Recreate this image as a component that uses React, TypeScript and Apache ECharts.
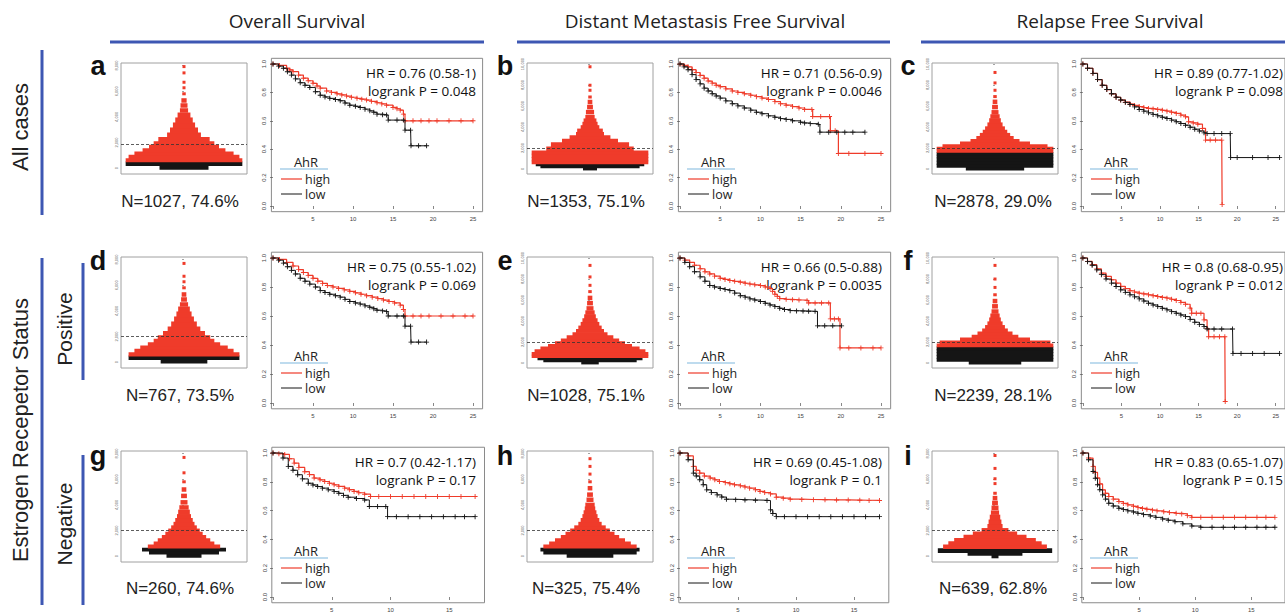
import React, { useEffect, useRef } from "react";
import * as echarts from "echarts";

// ---------- DATA ----------
const headers = ["Overall Survival", "Distant Metastasis Free Survival", "Relapse Free Survival"];
const rowLabels = ["All cases", "Estrogen Recepetor Status"];
const subLabels = ["Positive", "Negative"];
const letters = ["a", "b", "c", "d", "e", "f", "g", "h", "i"];
const nTexts = ["N=1027, 74.6%", "N=1353, 75.1%", "N=2878, 29.0%", "N=767, 73.5%", "N=1028, 75.1%", "N=2239, 28.1%", "N=260, 74.6%", "N=325, 75.4%", "N=639, 62.8%"];
const hrTexts = ["HR = 0.76 (0.58-1)", "HR = 0.71 (0.56-0.9)", "HR = 0.89 (0.77-1.02)", "HR = 0.75 (0.55-1.02)", "HR = 0.66 (0.5-0.88)", "HR = 0.8 (0.68-0.95)", "HR = 0.7 (0.42-1.17)", "HR = 0.69 (0.45-1.08)", "HR = 0.83 (0.65-1.07)"];
const pTexts = ["logrank P = 0.048", "logrank P = 0.0046", "logrank P = 0.098", "logrank P = 0.069", "logrank P = 0.0035", "logrank P = 0.012", "logrank P = 0.17", "logrank P = 0.1", "logrank P = 0.15"];
const legendTitle = "AhR";
const legendNames = ["high", "low"];

// beeswarm rows: [expression value, half width (fraction of box), isLowGroup]
const beeA = [[50,0.42,1],[360,1.0,1],[620,1.0,0],[880,0.95,0],[1140,0.85,0],[1400,0.71,0],[1660,0.6,0],[1920,0.52,0],[2230,0.44,0],[2560,0.29,0],[2950,0.24,0],[3340,0.19,0],[3730,0.15,0],[4120,0.11,0],[4500,0.07,0],[4890,0.06,0],[5280,0.045,0],[5800,0.03,0],[6270,0.02,0],[6700,0.015,0],[7430,0.012,0],[7920,0.012,0]];
const beeB = [[30,0.12,1],[200,0.85,1],[385,0.93,1],[610,1.0,0],[930,1.0,0],[1250,1.0,0],[1570,1.0,0],[1890,0.75,0],[2310,0.67,0],[2690,0.48,0],[3010,0.35,0],[3330,0.24,0],[3650,0.22,0],[3970,0.16,0],[4300,0.13,0],[4620,0.11,0],[4940,0.08,0],[5420,0.07,0],[5900,0.05,0],[6380,0.04,0],[6860,0.03,0],[7500,0.02,0],[7980,0.02,0],[9740,0.015,0]];
const beeC = [[20,0.5,1],[300,1.0,1],[600,1.0,1],[900,1.0,1],[1200,1.0,1],[1450,1.0,1],[1700,1.0,0],[1950,1.0,0],[2200,0.9,0],[2450,0.6,0],[2700,0.42,0],[2950,0.32,0],[3250,0.26,0],[3550,0.21,0],[3850,0.17,0],[4200,0.13,0],[4600,0.1,0],[5000,0.08,0],[5400,0.06,0],[5900,0.05,0],[6400,0.04,0],[6900,0.03,0],[7500,0.02,0],[8200,0.015,0],[9200,0.015,0]];
const beeD = [[60,0.4,1],[350,0.95,1],[620,0.95,0],[880,0.85,0],[1140,0.75,0],[1400,0.62,0],[1660,0.52,0],[1920,0.45,0],[2230,0.36,0],[2560,0.28,0],[2950,0.22,0],[3340,0.17,0],[3730,0.13,0],[4120,0.1,0],[4500,0.07,0],[4890,0.05,0],[5280,0.04,0],[5800,0.03,0],[6270,0.02,0],[6700,0.015,0],[7700,0.012,0]];
const beeE = [[30,0.15,1],[200,0.8,1],[400,0.9,1],[620,1.0,0],[880,1.0,0],[1140,0.95,0],[1400,0.85,0],[1650,0.72,0],[1900,0.6,0],[2150,0.5,0],[2450,0.4,0],[2750,0.3,0],[3050,0.24,0],[3350,0.2,0],[3700,0.16,0],[4050,0.13,0],[4400,0.1,0],[4800,0.08,0],[5200,0.06,0],[5700,0.05,0],[6200,0.04,0],[6800,0.03,0],[7400,0.02,0],[8200,0.02,0],[9300,0.015,0]];
const beeF = [[30,0.45,1],[280,1.0,1],[560,1.0,1],[840,1.0,1],[1120,1.0,1],[1400,1.0,1],[1680,1.0,0],[1960,0.95,0],[2240,0.6,0],[2520,0.4,0],[2800,0.3,0],[3100,0.22,0],[3400,0.17,0],[3750,0.13,0],[4100,0.1,0],[4500,0.08,0],[4900,0.06,0],[5400,0.05,0],[5900,0.04,0],[6500,0.03,0],[7200,0.02,0],[8000,0.02,0],[9300,0.015,0]];
const beeG = [[50,0.3,1],[280,0.6,1],[500,0.72,1],[750,0.62,0],[1000,0.52,0],[1250,0.45,0],[1500,0.38,0],[1750,0.32,0],[2000,0.27,0],[2250,0.22,0],[2500,0.18,0],[2800,0.15,0],[3100,0.12,0],[3400,0.1,0],[3800,0.08,0],[4200,0.06,0],[4700,0.05,0],[5200,0.04,0],[5800,0.03,0],[6500,0.02,0],[7700,0.015,0]];
const beeH = [[50,0.4,1],[280,0.8,1],[500,0.85,1],[750,0.8,0],[1000,0.7,0],[1250,0.6,0],[1500,0.5,0],[1750,0.42,0],[2000,0.34,0],[2250,0.27,0],[2500,0.2,0],[2800,0.16,0],[3100,0.13,0],[3400,0.11,0],[3700,0.09,0],[4000,0.08,0],[4400,0.06,0],[4800,0.05,0],[5300,0.04,0],[5800,0.03,0],[6400,0.02,0],[7000,0.015,0],[7600,0.015,0]];
const beeI = [[0,0.06,1],[150,0.47,1],[430,0.98,1],[755,0.89,0],[1006,0.8,0],[1258,0.7,0],[1509,0.54,0],[1761,0.38,0],[2013,0.23,0],[2314,0.13,0],[2642,0.11,0],[3019,0.09,0],[3396,0.07,0],[3774,0.06,0],[4150,0.05,0],[4528,0.04,0],[4906,0.03,0],[5660,0.015,0],[6038,0.015,0],[6843,0.015,0],[7849,0.015,0]];
const beeTickMax = [8000, 10000, 10000, 8000, 10000, 10000, 8000, 8000, 8000];
const beeCutoff = [1900, 1950, 1950, 2000, 2000, 1950, 2000, 2000, 2000];

// Kaplan-Meier curves: [years, survival]
const kmAHigh = [[0,1],[0.8,0.99],[1.7,0.97],[2.1,0.958],[2.5,0.946],[3.2,0.922],[3.8,0.9],[4.4,0.882],[5,0.864],[5.5,0.845],[5.9,0.83],[6.7,0.81],[7.3,0.8],[8,0.79],[8.6,0.782],[9.2,0.774],[9.8,0.766],[10.5,0.758],[11.1,0.752],[11.7,0.746],[12.3,0.737],[13,0.727],[13.6,0.719],[14.2,0.71],[15,0.694],[15.5,0.685],[15.9,0.675],[16.3,0.647],[16.5,0.6],[17.5,0.6],[18.5,0.6],[19.5,0.6],[20.5,0.6],[22,0.6],[23.5,0.6],[25,0.6]];
const kmALow = [[0,1],[0.7,0.985],[1.3,0.97],[1.8,0.945],[2.3,0.922],[2.8,0.895],[3.4,0.868],[4,0.85],[4.6,0.835],[5.3,0.805],[5.9,0.78],[6.5,0.768],[7.1,0.758],[7.8,0.75],[8.4,0.741],[9,0.725],[9.6,0.71],[10.3,0.702],[10.9,0.694],[11.5,0.682],[12.1,0.67],[12.6,0.66],[13,0.647],[13.7,0.643],[14.2,0.64],[14.4,0.605],[15.5,0.605],[16.3,0.605],[16.5,0.534],[17.2,0.534],[17.25,0.424],[18.2,0.424],[19.2,0.424]];
const kmBHigh = [[0,1],[0.5,0.99],[1,0.98],[1.5,0.96],[2,0.94],[2.5,0.92],[3,0.9],[3.5,0.88],[4,0.865],[4.5,0.85],[5,0.84],[5.7,0.825],[6.5,0.81],[7.2,0.8],[8,0.79],[8.8,0.78],[9.5,0.77],[10.2,0.76],[11,0.75],[11.8,0.735],[12.5,0.72],[13.2,0.71],[14,0.7],[14.8,0.69],[15.5,0.68],[16.4,0.68],[16.5,0.63],[17.5,0.63],[18.6,0.63],[18.7,0.53],[19.3,0.53],[19.7,0.37],[21,0.37],[23,0.37],[25,0.37]];
const kmBLow = [[0,1],[0.5,0.98],[1,0.96],[1.5,0.925],[2,0.89],[2.5,0.86],[3,0.83],[3.5,0.81],[4,0.79],[4.5,0.775],[5,0.76],[5.7,0.74],[6.5,0.72],[7.2,0.705],[8,0.69],[8.8,0.675],[9.5,0.66],[10.2,0.65],[11,0.635],[11.8,0.625],[12.5,0.615],[13.2,0.61],[14,0.6],[15,0.59],[15.5,0.585],[16.2,0.58],[17.2,0.575],[17.4,0.52],[18.5,0.52],[19.5,0.52],[20.5,0.52],[21.5,0.52],[23,0.52]];
const kmCHigh = [[0,1],[0.6,0.97],[1.3,0.934],[1.9,0.89],[2.5,0.85],[3.1,0.82],[3.7,0.79],[4.3,0.766],[4.9,0.746],[5.5,0.731],[6.1,0.718],[6.7,0.708],[7.3,0.7],[7.9,0.693],[8.5,0.687],[9.1,0.683],[9.7,0.68],[10.3,0.674],[10.9,0.668],[11.5,0.66],[12.1,0.652],[12.7,0.64],[13.3,0.628],[13.7,0.593],[14.3,0.585],[14.9,0.576],[15.5,0.546],[15.9,0.464],[16.5,0.464],[17.2,0.464],[18,0.464],[18.05,0.01]];
const kmCLow = [[0,1],[0.6,0.97],[1.3,0.934],[1.9,0.89],[2.5,0.85],[3.1,0.82],[3.7,0.79],[4.3,0.766],[4.9,0.746],[5.5,0.73],[6.1,0.715],[6.7,0.698],[7.3,0.68],[7.9,0.668],[8.5,0.656],[9.1,0.645],[9.7,0.635],[10.3,0.625],[10.9,0.616],[11.5,0.605],[12.1,0.593],[12.7,0.581],[13.3,0.569],[13.9,0.555],[14.5,0.541],[15.1,0.528],[15.7,0.515],[16.1,0.51],[17,0.51],[18,0.51],[19.1,0.51],[19.15,0.341],[20,0.341],[22,0.341],[24,0.341],[25.5,0.341]];
const kmDHigh = [[0,1],[0.8,0.99],[1.7,0.97],[2.5,0.945],[3.2,0.92],[3.8,0.9],[4.4,0.88],[5,0.86],[5.6,0.84],[6.2,0.825],[6.8,0.81],[7.5,0.8],[8.2,0.79],[8.9,0.78],[9.6,0.77],[10.3,0.76],[11,0.75],[11.7,0.74],[12.4,0.73],[13.1,0.72],[13.8,0.71],[14.5,0.7],[15.2,0.69],[15.9,0.675],[16.3,0.645],[16.5,0.6],[17.5,0.6],[18.5,0.6],[19.5,0.6],[21,0.6],[22.5,0.6],[24,0.6],[25,0.6]];
const kmDLow = [[0,1],[0.7,0.985],[1.3,0.965],[1.8,0.94],[2.3,0.915],[2.8,0.89],[3.4,0.86],[4,0.84],[4.6,0.82],[5.3,0.8],[5.9,0.775],[6.5,0.762],[7.1,0.75],[7.8,0.74],[8.4,0.73],[9,0.715],[9.6,0.7],[10.3,0.69],[10.9,0.682],[11.5,0.67],[12.1,0.66],[12.6,0.65],[13,0.64],[13.7,0.635],[14.2,0.63],[14.4,0.6],[15.5,0.6],[16.3,0.6],[16.5,0.53],[17.2,0.53],[17.25,0.42],[18.2,0.42],[19.2,0.42]];
const kmEHigh = [[0,1],[0.6,0.985],[1.2,0.97],[1.8,0.95],[2.5,0.926],[3.1,0.905],[3.7,0.89],[4.3,0.875],[5,0.86],[5.6,0.852],[6.2,0.845],[6.8,0.839],[7.5,0.833],[8.1,0.826],[8.7,0.82],[9.3,0.815],[10,0.81],[10.6,0.8],[11.2,0.79],[11.5,0.77],[11.8,0.75],[12.1,0.735],[12.4,0.72],[13.2,0.715],[14,0.712],[14.8,0.71],[15.8,0.706],[16,0.69],[16.8,0.69],[17.6,0.69],[18.5,0.69],[18.7,0.58],[19.2,0.58],[19.7,0.58],[19.9,0.38],[21,0.38],[22.5,0.38],[24,0.38],[25,0.38]];
const kmELow = [[0,1],[0.6,0.97],[1.2,0.94],[1.8,0.905],[2.5,0.87],[3.1,0.84],[3.7,0.81],[4.3,0.8],[5,0.79],[5.6,0.782],[6.2,0.775],[6.8,0.758],[7.5,0.74],[8.1,0.73],[8.7,0.718],[9.3,0.71],[10,0.7],[10.6,0.688],[11.2,0.676],[11.8,0.665],[12.4,0.653],[13,0.645],[13.7,0.637],[14.5,0.635],[15.3,0.634],[16,0.633],[16.8,0.632],[17.1,0.532],[18,0.532],[19,0.532],[20.1,0.532]];
const kmFHigh = [[0,1],[0.6,0.977],[1.2,0.954],[1.8,0.925],[2.4,0.896],[3,0.873],[3.7,0.85],[4.3,0.827],[4.9,0.804],[5.5,0.789],[6.1,0.774],[6.7,0.765],[7.3,0.757],[7.9,0.752],[8.5,0.746],[9.1,0.74],[9.7,0.734],[10.3,0.728],[10.9,0.723],[11.5,0.715],[12.1,0.707],[12.7,0.694],[13.3,0.681],[13.9,0.654],[14.1,0.619],[14.7,0.619],[15.3,0.619],[15.7,0.573],[16.1,0.515],[16.3,0.457],[17,0.457],[17.7,0.457],[18.4,0.457],[18.45,0.01]];
const kmFLow = [[0,1],[0.6,0.975],[1.2,0.95],[1.8,0.918],[2.4,0.885],[3,0.855],[3.7,0.827],[4.3,0.803],[4.9,0.78],[5.5,0.763],[6.1,0.746],[6.7,0.732],[7.3,0.718],[7.9,0.703],[8.5,0.688],[9.1,0.676],[9.7,0.665],[10.3,0.653],[10.9,0.642],[11.5,0.63],[12.1,0.619],[12.7,0.607],[13.3,0.596],[13.9,0.577],[14.5,0.557],[15.1,0.542],[15.7,0.527],[16.1,0.51],[17,0.51],[18,0.51],[19.4,0.51],[19.45,0.342],[20.5,0.342],[22,0.342],[23.5,0.342],[25.5,0.342]];
const kmGHigh = [[0,1],[0.5,0.995],[1,0.99],[1.4,0.96],[1.8,0.93],[2.2,0.9],[2.7,0.87],[3.1,0.85],[3.5,0.826],[4,0.814],[4.4,0.802],[4.8,0.79],[5.2,0.779],[5.6,0.768],[6.1,0.756],[6.5,0.745],[6.9,0.733],[7.3,0.724],[7.8,0.714],[8.3,0.698],[9,0.698],[10,0.698],[11,0.698],[12,0.698],[13,0.698],[14,0.698],[15,0.698],[16,0.698],[17.2,0.698]];
const kmGLow = [[0,1],[0.85,0.965],[1.3,0.907],[1.7,0.88],[2.1,0.849],[2.5,0.82],[3,0.79],[3.4,0.778],[3.8,0.767],[4.2,0.756],[4.7,0.744],[5.2,0.732],[5.6,0.72],[6,0.706],[6.4,0.693],[7.1,0.684],[7.8,0.674],[8.2,0.628],[8.9,0.628],[9.6,0.628],[9.75,0.558],[10.5,0.558],[11.5,0.558],[12.5,0.558],[13.5,0.558],[14.5,0.558],[15.5,0.558],[16.3,0.558],[17.2,0.558]];
const kmHHigh = [[0,1],[0.7,0.98],[1.15,0.907],[1.4,0.88],[1.7,0.86],[2.1,0.84],[2.6,0.826],[3,0.814],[3.4,0.802],[3.9,0.794],[4.3,0.786],[4.7,0.779],[5.2,0.772],[5.6,0.764],[6,0.756],[6.5,0.745],[6.9,0.733],[7.3,0.725],[7.8,0.716],[8.3,0.693],[8.9,0.686],[9.5,0.679],[10.5,0.677],[11.5,0.676],[12.5,0.675],[13.5,0.674],[14.5,0.673],[15.5,0.672],[16.3,0.671],[17.2,0.67]];
const kmHLow = [[0,1],[0.7,0.953],[1.15,0.86],[1.4,0.84],[1.7,0.814],[2,0.78],[2.3,0.744],[2.7,0.725],[3.2,0.709],[3.6,0.694],[4,0.679],[4.8,0.676],[5.6,0.674],[6.5,0.672],[7.5,0.67],[7.8,0.605],[8,0.58],[8.3,0.558],[9,0.558],[10,0.558],[11,0.558],[12,0.558],[13,0.558],[14,0.558],[15,0.558],[16,0.558],[17.2,0.558]];
const kmIHigh = [[0,1],[0.5,0.965],[0.9,0.907],[1.1,0.865],[1.3,0.826],[1.5,0.785],[1.75,0.744],[2,0.72],[2.3,0.698],[2.7,0.68],[3.2,0.663],[3.6,0.65],[4,0.64],[4.5,0.63],[4.9,0.621],[5.3,0.615],[5.7,0.609],[6.2,0.603],[6.6,0.598],[7.2,0.592],[7.7,0.586],[8.3,0.581],[8.8,0.577],[9.3,0.565],[9.7,0.553],[10.5,0.553],[11.5,0.553],[12.5,0.553],[13.5,0.553],[14.5,0.553],[15.5,0.553],[16.3,0.553],[17.1,0.553]];
const kmILow = [[0,1],[0.5,0.953],[0.9,0.872],[1.1,0.825],[1.3,0.779],[1.5,0.745],[1.75,0.709],[2,0.68],[2.3,0.651],[2.7,0.632],[3.2,0.616],[3.6,0.607],[4,0.598],[4.5,0.59],[4.9,0.581],[5.4,0.572],[6,0.563],[6.5,0.553],[7.1,0.542],[7.6,0.533],[8.2,0.523],[8.9,0.508],[9.7,0.493],[10.5,0.484],[11.5,0.484],[12.5,0.484],[13.5,0.484],[14.5,0.484],[15.5,0.484],[16.3,0.484],[17.1,0.484]];

const kmYTicks = [0, 0.2, 0.4, 0.6, 0.8, 1.0];
const kmXTicksLong = [0, 5, 10, 15, 20, 25];
const kmXTicksShort = [0, 5, 10, 15];

// ---------- STYLE / LAYOUT ----------
const RED = "#ef3b2a";
const BLK = "#151515";
const BLUE = "#3d57b3";
const PLUS = "path://M0,4.1h10v1.8h-10z M4.1,0h1.8v10h-1.8z";
const BEE_LEFT = [121, 527, 932];
const BEE_TOP = [63, 257, 451];
const BEE_W = 126;
const BEE_H = 111;
const KM_X0 = [273, 680, 1083];
const KM_PPY = [[8.0, 8.04, 8.3], [8.0, 8.04, 8.3], [11.75, 11.6, 11.8]];
const KM_Y1 = [64, 258, 453];
const KM_PPU = [142, 145, 144];
const KM_XMIN = [-0.2, -0.2, -0.1];
const KM_XMAX = [26.2, 26.2, 18.0];
const HR_RIGHT = [476, 882, 1283];
const N_X = [180, 586, 993];
const N_Y = [201, 395, 588];
const LET_X = [98, 505, 908];
const LET_Y = [66, 261, 456];

const beeData = [beeA, beeB, beeC, beeD, beeE, beeF, beeG, beeH, beeI];
const kmHigh = [kmAHigh, kmBHigh, kmCHigh, kmDHigh, kmEHigh, kmFHigh, kmGHigh, kmHHigh, kmIHigh];
const kmLow = [kmALow, kmBLow, kmCLow, kmDLow, kmELow, kmFLow, kmGLow, kmHLow, kmILow];

const makeBeeRender = (bins: number[][]) => (params: any, api: any) => {
  const i = params.dataIndex;
  const v = bins[i][0];
  const hw = bins[i][1];
  const low = bins[i][2];
  const lo = i > 0 ? (v + bins[i - 1][0]) / 2 : v - 130;
  const hi = i < bins.length - 1 ? (v + bins[i + 1][0]) / 2 : v + 130;
  const pL = api.coord([-hw, v]);
  const pR = api.coord([hw, v]);
  const yHi = api.coord([0, hi])[1];
  const yLo = api.coord([0, lo])[1];
  let top = yHi - 0.4;
  let h = yLo - yHi + 0.8;
  const w = Math.max(pR[0] - pL[0], 3);
  const cx = (pL[0] + pR[0]) / 2;
  const maxH = w < 4 ? 3 : w < 10 ? 4.5 : 8;
  if (h > maxH) {
    top = pL[1] - maxH / 2;
    h = maxH;
  }
  return {
    type: "rect",
    shape: { x: cx - w / 2, y: top, width: w, height: h },
    style: { fill: low ? BLK : RED },
  };
};

function txt(text: string, x: number, y: number, size: number, family: string, opts: any = {}) {
  const align = opts.align || "center";
  return {
    type: "text",
    x,
    y,
    rotation: opts.rotation || 0,
    silent: true,
    style: {
      text,
      x: 0,
      y: 0,
      fontSize: size,
      fontFamily: family,
      fontWeight: opts.weight || "normal",
      fill: opts.fill || "#222",
      align,
      verticalAlign: "middle",
      textAlign: align,
      textVerticalAlign: "middle",
    },
  };
}

function ln(x1: number, y1: number, x2: number, y2: number, color: string, width: number) {
  return { type: "line", silent: true, shape: { x1, y1, x2, y2 }, style: { stroke: color, lineWidth: width } };
}

function buildOption() {
  const grid: any[] = [];
  const xAxis: any[] = [];
  const yAxis: any[] = [];
  const series: any[] = [];
  const elements: any[] = [];

  for (let k = 0; k < 9; k++) {
    const row = Math.floor(k / 3);
    const col = k % 3;
    const gb = 2 * k;
    const gk = 2 * k + 1;
    grid.push({ left: BEE_LEFT[col], top: BEE_TOP[row], width: BEE_W, height: BEE_H, show: true, borderColor: "#a0a0a0", borderWidth: 1, backgroundColor: "transparent" });
    const tmax = beeTickMax[k];
    const bTicks: number[] = [];
    for (let t = 0; t <= tmax; t += 2000) bTicks.push(t);
    const bMin = tmax === 8000 ? -450 : -480;
    const bMax = tmax === 8000 ? 8200 : 10100;
    xAxis.push({ gridIndex: gb, type: "value", min: -1.08, max: 1.08, show: false });
    yAxis.push({
      gridIndex: gb, type: "value", min: bMin, max: bMax,
      splitLine: { show: false }, axisLine: { show: false },
      axisTick: { show: true, length: 2, customValues: bTicks, lineStyle: { color: "#666", width: 0.6 } },
      axisLabel: { show: true, customValues: bTicks, rotate: 90, fontSize: 4, color: "#666", margin: 3, fontFamily: "Liberation Sans" },
    });
    const ppy = KM_PPY[row][col];
    const ppu = KM_PPU[row];
    const xmin = KM_XMIN[row];
    const xmax = KM_XMAX[row];
    const x0 = KM_X0[col];
    const y1 = KM_Y1[row];
    grid.push({ left: x0 + xmin * ppy, top: y1 - 0.04 * ppu, width: (xmax - xmin) * ppy, height: 1.08 * ppu, show: true, borderColor: "#8a8a8a", borderWidth: 1, backgroundColor: "transparent" });
    const xt = row === 2 ? kmXTicksShort : kmXTicksLong;
    xAxis.push({
      gridIndex: gk, type: "value", min: xmin, max: xmax,
      splitLine: { show: false }, axisLine: { show: false },
      axisTick: { show: true, length: 3, customValues: xt, lineStyle: { color: "#555", width: 0.7 } },
      axisLabel: { show: true, customValues: xt.filter((v) => v > 0), fontSize: 6, color: "#444", margin: 4, fontFamily: "Liberation Sans" },
    });
    yAxis.push({
      gridIndex: gk, type: "value", min: -0.04, max: 1.04,
      splitLine: { show: false }, axisLine: { show: false },
      axisTick: { show: true, length: 3, customValues: kmYTicks, lineStyle: { color: "#555", width: 0.7 } },
      axisLabel: { show: true, customValues: kmYTicks, rotate: 90, fontSize: 6, color: "#444", margin: 4, fontFamily: "Liberation Sans", formatter: (v: number) => v.toFixed(1) },
    });

    const bins = beeData[k];
    series.push({
      type: "custom", xAxisIndex: gb, yAxisIndex: gb, data: bins, encode: { x: 1, y: 0 },
      renderItem: makeBeeRender(bins), silent: true, z: 2,
      markLine: { silent: true, symbol: "none", label: { show: false }, lineStyle: { type: [3, 2], color: "#333", width: 0.8 }, data: [{ yAxis: beeCutoff[k] }] },
    });
    series.push({
      type: "line", xAxisIndex: gk, yAxisIndex: gk, data: kmHigh[k], step: "end",
      symbol: PLUS, symbolSize: 5, showSymbol: true, showAllSymbol: true,
      lineStyle: { color: RED, width: 1.2 }, itemStyle: { color: RED }, z: 3, silent: true,
    });
    series.push({
      type: "line", xAxisIndex: gk, yAxisIndex: gk, data: kmLow[k], step: "end",
      symbol: PLUS, symbolSize: 5, showSymbol: true, showAllSymbol: true,
      lineStyle: { color: BLK, width: 1 }, itemStyle: { color: BLK }, z: 4, silent: true,
    });

    elements.push(txt(letters[k], LET_X[col], LET_Y[row], 27, "Liberation Sans", { weight: "bold", fill: "#111" }));
    elements.push(txt(nTexts[k], N_X[col], N_Y[row], 17, "Liberation Sans", { fill: "#222" }));
    elements.push(txt(hrTexts[k], HR_RIGHT[col], y1 + 9, 13.5, "Open Sans", { align: "right", fill: "#111" }));
    elements.push(txt(pTexts[k], HR_RIGHT[col], y1 + 27, 13.5, "Open Sans", { align: "right", fill: "#111" }));
    elements.push(txt(legendTitle, x0 + 33, y1 + 98, 13, "Open Sans", { fill: "#222" }));
    elements.push(ln(x0 + 7, y1 + 105, x0 + 55, y1 + 105, "#a8cfe9", 1.5));
    elements.push(ln(x0 + 8, y1 + 115, x0 + 29, y1 + 115, RED, 1.2));
    elements.push(txt(legendNames[0], x0 + 32, y1 + 115, 12.5, "Open Sans", { align: "left", fill: "#222" }));
    elements.push(ln(x0 + 8, y1 + 130, x0 + 29, y1 + 130, BLK, 1));
    elements.push(txt(legendNames[1], x0 + 32, y1 + 130, 12.5, "Open Sans", { align: "left", fill: "#222" }));
  }

  elements.push(txt(headers[0], 297, 21, 19, "Open Sans", { fill: "#222" }));
  elements.push(txt(headers[1], 705, 21, 19, "Open Sans", { fill: "#222" }));
  elements.push(txt(headers[2], 1110, 21, 19, "Open Sans", { fill: "#222" }));
  elements.push(ln(110, 42, 484, 42, BLUE, 3));
  elements.push(ln(517, 42, 890, 42, BLUE, 3));
  elements.push(ln(921, 42, 1285, 42, BLUE, 3));
  elements.push(ln(42, 50, 42, 215, BLUE, 3));
  elements.push(ln(42, 258, 42, 605, BLUE, 3));
  elements.push(ln(83, 263, 83, 380, BLUE, 3));
  elements.push(ln(83, 455, 83, 605, BLUE, 3));
  elements.push(txt(rowLabels[0], 20, 127, 22, "Liberation Sans", { rotation: Math.PI / 2 }));
  elements.push(txt(rowLabels[1], 20, 430, 22, "Liberation Sans", { rotation: Math.PI / 2 }));
  elements.push(txt(subLabels[0], 64, 329, 21, "Liberation Sans", { rotation: Math.PI / 2 }));
  elements.push(txt(subLabels[1], 64, 524, 21, "Liberation Sans", { rotation: Math.PI / 2 }));

  return {
    animation: false,
    backgroundColor: "#ffffff",
    grid,
    xAxis,
    yAxis,
    series,
    graphic: { elements },
  };
}

export default function App() {
  const ref = useRef<HTMLDivElement>(null);
  useEffect(() => {
    if (!ref.current) return;
    const chart = echarts.init(ref.current, null, { renderer: "svg" });
    chart.setOption(buildOption() as any);
    return () => chart.dispose();
  }, []);
  return <div ref={ref} style={{ position: "fixed", left: 0, top: 0, width: 1285, height: 613, background: "#fff" }} />;
}
